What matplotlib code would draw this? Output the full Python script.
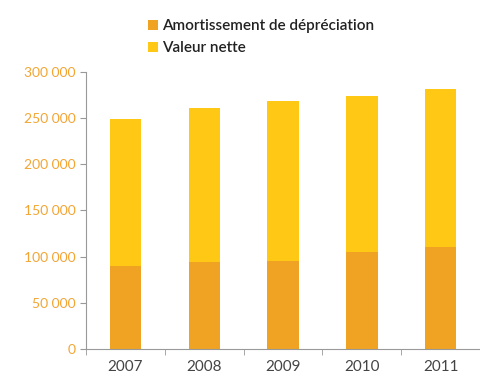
import matplotlib.pyplot as plt
import numpy as np

years = ["2007", "2008", "2009", "2010", "2011"]
amortissement = [90000, 94000, 95000, 105000, 110000]
valeur_nette = [159000, 167000, 173000, 169000, 171000]
yticks = [0, 50000, 100000, 150000, 200000, 250000, 300000]

col_amort = "#F0A322"
col_net = "#FFC814"
col_tick = "#F3A533"

plt.rcParams['font.family'] = ['Lato', 'DejaVu Sans']

fig = plt.figure(figsize=(4.81, 3.78), dpi=100)
ax = fig.add_axes([0.179, 0.077, 0.819, 0.733])

x = np.arange(len(years))
ax.bar(x, amortissement, width=0.4, color=col_amort, label="Amortissement de dépréciation")
ax.bar(x, valeur_nette, width=0.4, bottom=amortissement, color=col_net, label="Valeur nette")

ax.set_xlim(-0.5, len(years) - 0.5)
ax.set_ylim(0, 300000)
ax.set_yticks(yticks)
ax.set_yticklabels([f"{v:,}".replace(",", " ") for v in yticks], color=col_tick, fontsize=10)
ax.set_xticks(x)
ax.set_xticklabels(years, fontsize=11, color="#444444")
ax.set_xticks(np.arange(len(years) + 1) - 0.5, minor=True)
ax.tick_params(axis='x', which='major', length=0, pad=8)
ax.tick_params(axis='x', which='minor', length=4, color="#999999")
ax.tick_params(axis='y', length=4, color="#999999")

for s in ["top", "right"]:
    ax.spines[s].set_visible(False)
for s in ["left", "bottom"]:
    ax.spines[s].set_color("#999999")

leg = fig.legend(loc="upper left", bbox_to_anchor=(0.28, 0.985), frameon=False,
                 fontsize=11, handlelength=0.6, handleheight=0.6, handletextpad=0.3,
                 labelspacing=0.5, labelcolor="#222222")
for t in leg.get_texts():
    t.set_fontweight("semibold")

plt.savefig("out.png", dpi=100)
